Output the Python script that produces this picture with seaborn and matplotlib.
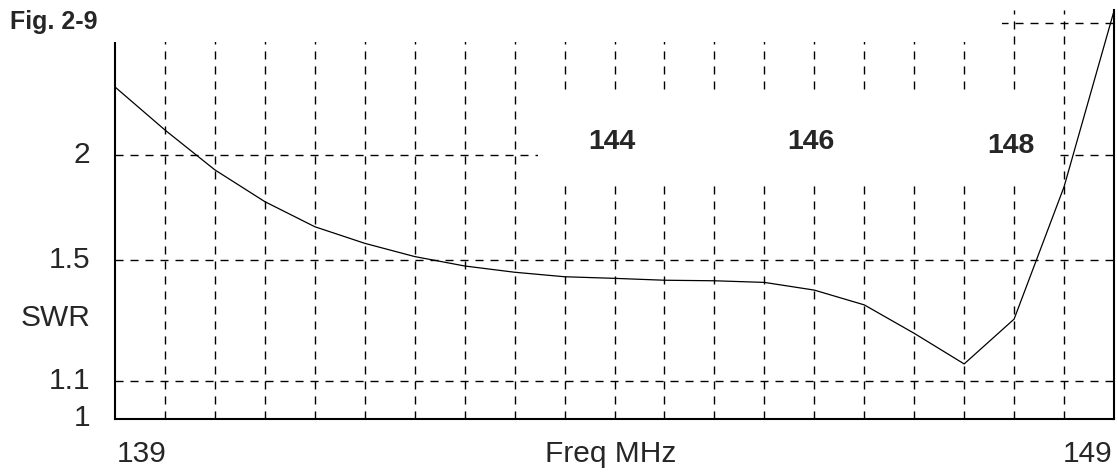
import numpy as np
import pandas as pd
import seaborn as sns
from matplotlib import pyplot as plt
from matplotlib.patches import Rectangle

# SWR sweep, every 0.5 MHz
freq = [139, 139.5, 140, 140.5, 141, 141.5, 142, 142.5, 143, 143.5, 144,
        144.5, 145, 145.5, 146, 146.5, 147, 147.5, 148, 148.5, 149]
swr = [2.44, 2.146, 1.915, 1.754, 1.639, 1.568, 1.514, 1.477, 1.453, 1.436, 1.430,
       1.423, 1.421, 1.415, 1.387, 1.335, 1.241, 1.148, 1.287, 1.827, 3.12]

grid_freq = [139.5, 140, 140.5, 141, 141.5, 142, 142.5, 143, 143.5, 144, 144.5,
             145, 145.5, 146, 146.5, 147, 147.5, 148, 148.5]
grid_swr = [1.1, 1.5, 2, 3]
ytick_swr = [1, 1.1, 1.5, 2]
ytick_labels = ["1", "1.1", "1.5", "2"]
band_labels = ["144", "146", "148"]
band_freq = [144, 146, 148]


def rho(s):
    # the SWR axis is linear in reflection coefficient
    s = np.asarray(s, dtype=float)
    return (s - 1) / (s + 1)


df = pd.DataFrame({"freq": freq, "rho": rho(swr)})

sns.set_style("white")
plt.rcParams["font.family"] = ["Liberation Sans", "DejaVu Sans"]

W, H = 1118, 472
fig = plt.figure(figsize=(W / 100, H / 100), dpi=100)
x0, x1, ytop, ybot = 115, 1114, 10, 418.5
ax = fig.add_axes([x0 / W, (H - ybot) / H, (x1 - x0) / W, (ybot - ytop) / H])

dash = dict(color="black", lw=1.0, dashes=(5.8, 5.0), zorder=1)
for g in grid_freq:
    ax.axvline(g, **dash)
for g in rho(grid_swr):
    ax.axhline(g, **dash)

sns.lineplot(data=df, x="freq", y="rho", color="black", lw=0.9, ax=ax, zorder=4)

ax.set_xlim(139, 149)
ax.set_ylim(0, (ybot - ytop) / 792)
ax.set_xticks([])
ax.set_yticks([])
ax.set_xlabel("")
ax.set_ylabel("")
ax.spines["top"].set_visible(False)
for s in ["left", "bottom", "right"]:
    ax.spines[s].set_color("black")
    ax.spines[s].set_linewidth(1.5)

# blank areas of the original
def blank(px0, py0, px1, py1):
    ax.add_patch(Rectangle((px0 / W, (H - py1) / H), (px1 - px0) / W, (py1 - py0) / H,
                           transform=fig.transFigure, facecolor="white",
                           edgecolor="none", clip_on=False, zorder=2.8))

blank(0, 0, 1002, 42)
blank(538, 93, 1058, 186)

fs = 21.5
for s, lab in zip(ytick_swr, ytick_labels):
    ax.text(-25 / (x1 - x0), rho(s) / ax.get_ylim()[1], lab, transform=ax.transAxes,
            ha="right", va="center", fontsize=fs)
ax.text(-25 / (x1 - x0), (ybot - 318) / (ybot - ytop), "SWR", transform=ax.transAxes,
        ha="right", va="center", fontsize=fs)
ax.text(139.02, -35 / (ybot - ytop), "139", transform=ax.get_xaxis_transform(),
        ha="left", va="center", fontsize=fs)
ax.text(148.98, -35 / (ybot - ytop), "149", transform=ax.get_xaxis_transform(),
        ha="right", va="center", fontsize=fs)
ax.text(0.496, -35 / (ybot - ytop), "Freq MHz", transform=ax.transAxes,
        ha="center", va="center", fontsize=fs)

bold_fam = ["Liberation Sans Narrow", "Liberation Sans"]
for f, lab, dy in zip(band_freq, band_labels, [0, 0, 4]):
    ax.text(f - 0.03, (ybot - 142 - dy) / (ybot - ytop), lab, transform=ax.get_xaxis_transform(),
            ha="center", va="center", fontsize=20.5, fontweight="bold", family=bold_fam, zorder=5)

fig.text(10 / W, 1 - 22 / H, "Fig. 2-9", ha="left", va="center", fontsize=18,
         fontweight="bold", family=bold_fam)

fig.savefig("out.png", dpi=100)
